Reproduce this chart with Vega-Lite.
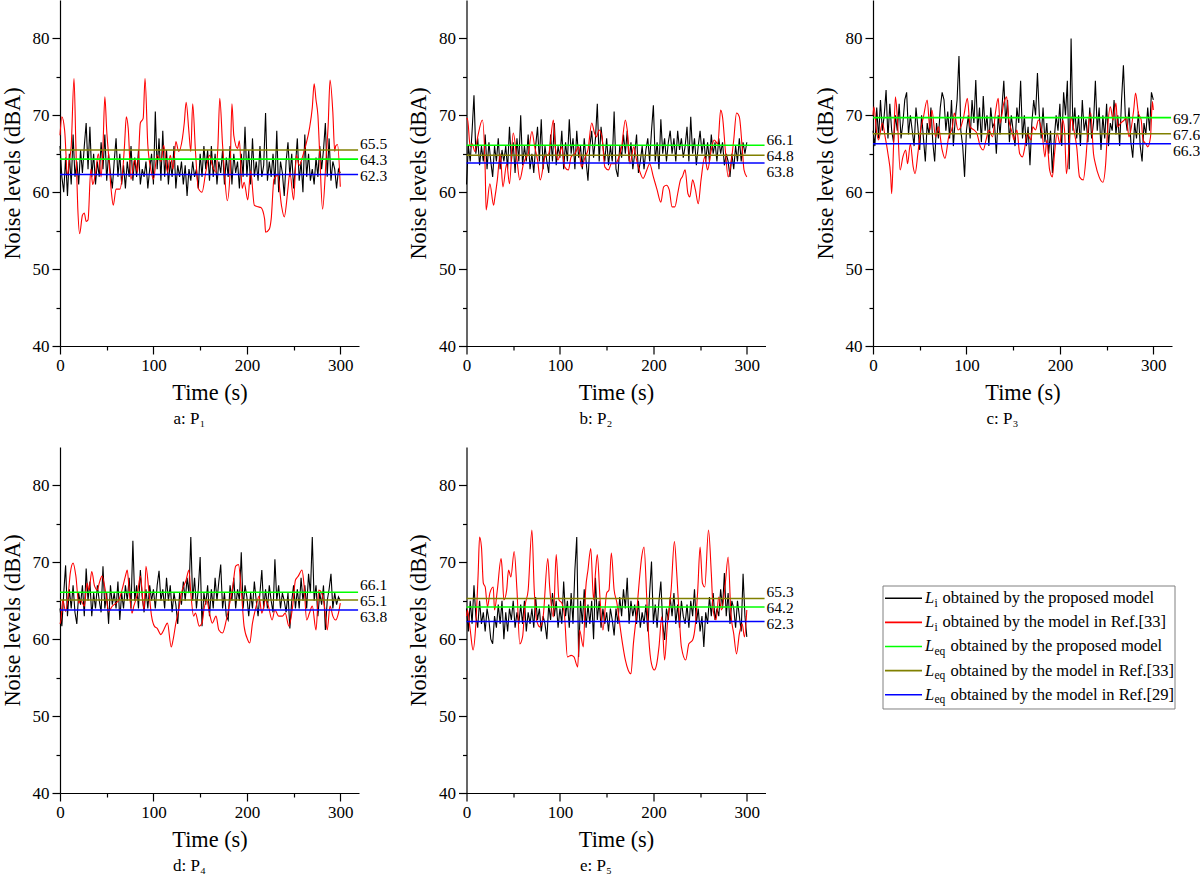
{
"$schema": "https://vega.github.io/schema/vega-lite/v6.json",
"background": "white",
"padding": {"left": 1, "top": 0, "right": 0, "bottom": 0},
"columns": 3,
"spacing": {"row": 101, "column": 107.5},
"bounds": "flush",
"datasets": {
"li": [
{"p":"a","s":"k","t":[0,2,4,6,8,10,12,14,16,18,20,22,24,26,28,30,32,34,36,38,40,42,44,46,48,50,52,54,56,58,60,62,64,66,68,70,72,74,76,78,80,82,84,86,88,90,92,94,96,98,100,102,104,106,108,110,112,114,116,118,120,122,124,126,128,130,132,134,136,138,140,142,144,146,148,150,152,154,156,158,160,162,164,166,168,170,172,174,176,178,180,182,184,186,188,190,192,194,196,198,200,202,204,206,208,210,212,214,216,218,220,222,224,226,228,230,232,234,236,238,240,242,244,246,248,250,252,254,256,258,260,262,264,266,268,270,272,274,276,278,280,282,284,286,288,290,292,294,296,298,300],
"v":[66,62,60,64.5,59.5,65,61,67.5,62,64,61,65.5,62.5,66,69,63,68.5,62,65,61,64,62,66.5,63,67.5,61.5,65,62.5,60.5,64,67,62,65,61,63.5,60.5,64,62,66,61.5,64.5,62,65.5,61,63,62,64,60.5,63,65,61,70.5,63,67,61.5,68,62,65.5,61,64,62,66,60.5,63.5,62,64,61,63.5,59.5,63,61.5,64,62,63,60.5,65,62,66,63,65.5,61.5,66,62,65,61,64,62.5,65.5,61,64.5,62,66,61,65,62.5,64,60.5,65,62,68.5,62,65.5,61,67,62,64,61.5,66,62,63.5,70.3,61.5,64,62,65,61,68,60,64,62.5,59.5,64,66.5,62,65,60.5,63.5,67,61.5,64,60,67.5,62,65,61.5,63,61,64.5,62,66,63,65.5,69,62,67,61.5,64,63,60.5,63,62.5]},
{"p":"a","s":"r","t":[0,2,5,8,10,12,15,17,19,21,24,26,28,30,33,35,38,41,44,46,48,50,52,55,57,60,64,67,69,71,73,76,80,83,86,89,91,94,97,100,104,108,111,115,118,121,124,127,131,133,135,138,140,142,145,148,152,156,160,163,167,169,171,174,176,179,182,184,186,190,192,195,197,201,204,208,212,215,219,220,224,226,229,233,237,240,244,246,250,253,256,260,263,267,270,272,274,276,278,281,285,287,289,292,294,295,297,300],
"v":[67.4,69.8,68,62.2,64,66,74.8,66,58,54.6,57,57.3,56.2,56.4,63,61,62.5,65,62,66,72.4,68,64.8,60,58.3,60.4,60.4,62.6,66,69.8,68.3,61.7,64.3,62.6,69,69.6,74.8,66.1,63.1,61.7,64.8,64,66.1,62.6,64.8,63,66.6,65.3,67,69,71.7,67.8,65.3,71.5,65.3,60.5,60,62.6,64.8,63.5,62.6,66,72.2,66.1,62.6,58.9,62.6,71.5,67.4,65.7,66.7,60.5,61.3,59,62.8,58.3,58.1,58,56.5,54.8,55.2,56.5,61.7,62.2,58.3,56.8,60.5,62.6,59,64.8,63.5,64.8,66.1,68.3,71,74.1,72,70,64.8,57.8,64.8,68.7,74.6,70.4,65.3,66,66.2,60.7]},
{"p":"b","s":"k","t":[0,2,4,6,8,10,12,14,16,18,20,22,24,26,28,30,32,34,36,38,40,42,44,46,48,50,52,54,56,58,60,62,64,66,68,70,72,74,76,78,80,82,84,86,88,90,92,94,96,98,100,102,104,106,108,110,112,114,116,118,120,122,124,126,128,130,132,134,136,138,140,142,144,146,148,150,152,154,156,158,160,162,164,166,168,170,172,174,176,178,180,182,184,186,188,190,192,194,196,198,200,202,204,206,208,210,212,214,216,218,220,222,224,226,228,230,232,234,236,238,240,242,244,246,248,250,252,254,256,258,260,262,264,266,268,270,272,274,276,278,280,282,284,286,288,290,292,294,296,298,300],
"v":[61,66,64,68,72.6,65,67,63.5,66,64,67.5,63,66.5,64,62,66,64,67,63,65.5,64,66,63,68.5,64,66.5,62.5,67,64,70,63.5,66,64,67.5,63,65,62.5,66,68.5,64,69.5,63,66,64,62.5,67.5,64,69,63.5,66,64.5,68,63,66.5,64,69.5,65,67,63,68,64.5,66,63,67,64,61.5,66,68,64.5,67,71.5,64,68.5,66,64,67,63.5,66,64,70.5,63,62,66,64.5,67.5,65,68,64,66.5,63,65,67.5,62.5,64,66,63,65.5,67,64,68,71.3,64,66.5,63,69.5,65,67,64,66.5,68,65,67,64,68,65.5,67,64.5,66,68.5,64,69.8,65,67,63.5,66,68,65,67,64,66.5,64,67.5,65,66.5,64,67,65,66.5,63.5,65,64,62,65,63,66,64,67,64,66.5,65,66.5]},
{"p":"b","s":"r","t":[0,1,4,6,9,12,17,20,21,25,29,30,33,36,39,43,46,50,54,57,61,64,66,70,73,76,79,84,88,93,95,98,102,105,109,112,116,120,123,127,130,134,137,139,142,145,148,152,155,159,162,166,170,172,175,179,182,186,189,193,196,200,204,208,211,214,217,220,223,226,229,231,234,237,239,242,245,248,251,255,258,262,265,269,272,274,277,280,283,286,289,292,295,297,300],
"v":[69.5,69.6,65.9,66.3,65.3,67.2,69.4,62.9,57.7,61.1,58.3,59,61.6,65,60.7,63.7,61.1,67.7,64.2,61.6,63.7,64.6,65,67.9,65.9,64.2,61.6,64.6,65,69.4,65.9,64.2,65.9,63.3,62.9,64.6,65,65.9,63.3,64.6,65.5,69,67.7,67.2,68.1,67.2,63.3,62.9,63.7,63.7,64.2,65.9,69.4,68.1,63.7,65.9,64.2,62.5,61.8,62.9,63.7,62,60.3,58.7,60.7,60.9,60.3,58.1,58.1,59.8,61.6,62,62.9,59.8,59.4,61.6,60.3,58.5,61.6,64.6,62.9,65.5,66.8,66.3,70.7,69.8,65.5,62,63.7,66.8,70.3,69.8,65.9,62.9,62]},
{"p":"c","s":"k","t":[0,2,4,6,8,10,12,14,16,18,20,22,24,26,28,30,32,34,36,38,40,42,44,46,48,50,52,54,56,58,60,62,64,66,68,70,72,74,76,78,80,82,84,86,88,90,92,94,96,98,100,102,104,106,108,110,112,114,116,118,120,122,124,126,128,130,132,134,136,138,140,142,144,146,148,150,152,154,156,158,160,162,164,166,168,170,172,174,176,178,180,182,184,186,188,190,192,194,196,198,200,202,204,206,208,210,212,214,216,218,220,222,224,226,228,230,232,234,236,238,240,242,244,246,248,250,252,254,256,258,260,262,264,266,268,270,272,274,276,278,280,282,284,286,288,290,292,294,296,298,300],
"v":[68,66,71,67,72,68,70,73.3,67,71.5,68,66.5,70,68,71.5,67,69,72,73,67.5,70,68,66,71,68.5,65.5,70,67,64,69,67.5,71,66.5,64,69,67,71,73,72,68,70.5,67,72,66,69.5,72,77.7,68,66,62,68,70,67,72,69,74.6,68,71,66.5,72.5,68,70,66,71,68.5,69,65,70,67.5,71,74.5,69,72,66.5,70,68,66,71,69,74.5,67,70,66,68.5,63.5,69,72,70,75.5,70,67,71,66.5,69,65,68,62.5,67,70,68,71.5,66,73,70,74.5,63,80,68,71,67,70,66,72,68,69.5,66.5,71,67,69,74.5,68,71,65.5,70,67,71.5,66,69,68,72,67.5,70,66,72,76.5,70,68,71,66.5,64.5,69,67,70.5,66,64,69,67.5,71,68,73,72]},
{"p":"c","s":"r","t":[0,1,4,6,10,13,16,19,20,22,24,26,29,32,35,37,40,43,45,48,51,54,58,61,63,67,70,74,77,81,85,87,91,94,97,101,104,108,111,115,118,121,124,128,131,134,136,140,143,145,149,151,154,157,160,162,165,169,171,174,177,181,184,186,189,192,194,197,200,203,205,207,210,212,215,218,221,225,228,230,233,236,238,242,246,249,251,254,257,260,262,265,269,271,274,276,279,281,284,287,289,292,294,297,299,300],
"v":[70,71.1,67.7,66.8,69,67.2,65,62,59.8,66,72.4,69.8,62.9,64.6,65.5,63.7,66.3,63.3,62.4,65,68.1,69.8,72,68.1,70.7,67.2,68.5,65.5,64.4,67.2,68.5,70.3,68.1,68.5,69.8,72.2,68.5,68.1,67.7,65.9,65.5,66.8,68.1,67.2,70.3,72.2,69,71.6,72.4,69.8,67.7,66.8,68.1,65,64.6,65.5,67.7,66.8,68.5,68.1,69.4,67.7,64.6,66.8,62.9,62,64.6,67.7,66.3,69.4,68.1,62.4,66.3,69.8,68.1,65.9,62,61.6,64.6,68.1,70.3,65,63.7,62,61.3,63.7,68.1,71.1,69.4,71.6,68.5,69,69.4,69.8,67.2,68.1,70.7,72.9,70.3,69.4,66.8,66.3,65.9,67.2,71.8,70.7]},
{"p":"d","s":"k","t":[0,2,4,6,8,10,12,14,16,18,20,22,24,26,28,30,32,34,36,38,40,42,44,46,48,50,52,54,56,58,60,62,64,66,68,70,72,74,76,78,80,82,84,86,88,90,92,94,96,98,100,102,104,106,108,110,112,114,116,118,120,122,124,126,128,130,132,134,136,138,140,142,144,146,148,150,152,154,156,158,160,162,164,166,168,170,172,174,176,178,180,182,184,186,188,190,192,194,196,198,200,202,204,206,208,210,212,214,216,218,220,222,224,226,228,230,232,234,236,238,240,242,244,246,248,250,252,254,256,258,260,262,264,266,268,270,272,274,276,278,280,282,284,286,288,290,292,294,296,298,300],
"v":[64,61.7,66,69.6,63,66.5,64,67,63.5,62,66,64.5,67,63,69.2,65,67.5,63,66,64,67,65,63.5,69.5,64,66,62,67,64.5,66,64,67.5,62.5,66,64,67,65,68,64,72.8,65,67,64,69,65.5,63.5,66.5,64,67,65,66.5,64,67,68.9,65,66.5,64,68,65,67,63.5,66,64.5,62,66,64.5,67.5,65,68,66,73.3,65,68,64,66.5,70.7,61.7,66,64.5,67,63,66.5,64,68,65,67.5,69.7,64,66,63,62.5,67,65,68,64,66.5,65,71.3,64,67,65.5,63,66,64,67.5,65,63,66,69,64,66.5,64,67,65,63.5,70.4,65,67,64,66,65,63.5,66,61.4,65,67,64,66.5,64,68,65,67,64,68.5,66,73.3,65,67,63,66,64.5,67,61.2,65,66.5,68.5,64,66,64.5,65.5,65]},
{"p":"d","s":"r","t":[0,1,3,6,9,11,14,17,20,22,26,29,31,34,37,40,42,45,49,52,56,60,63,67,70,72,74,77,79,83,86,90,92,95,98,101,104,108,111,115,119,121,124,127,130,135,138,140,143,145,149,152,154,157,160,163,167,170,174,178,181,185,188,191,194,197,201,203,206,210,213,216,220,223,227,230,234,238,241,245,249,252,255,259,261,264,267,270,274,277,280,283,286,289,292,295,298,300],
"v":[62,62.5,65.1,63.6,66,68.6,69.9,68.2,64.7,65.1,64.3,67.3,66.4,68.8,66.9,66.4,67.3,68.2,66,63.6,64.3,64.7,65.1,66.7,68.2,69,66.4,63.4,64.3,66,68.2,63.8,69.5,66.4,63,61.7,61.4,60.6,61.2,62.1,59,59.9,62.1,63.8,66,67.7,69,66,63,63.4,61.7,62.1,63.8,65.1,63.4,62.1,63,61.2,60.8,62.5,64.3,66.9,69.5,69.7,66.4,61.7,59.9,59.5,62.1,64.3,65.6,63.4,65.1,64.3,62.5,63.8,63,63,63.4,61.7,64.3,67.7,68.2,69,67.3,62.5,63.4,64.3,61.2,66.4,66,64.3,61.2,64.3,63,62.5,63.4,64.7]},
{"p":"e","s":"k","t":[0,2,4,6,8,10,12,14,16,18,20,22,24,26,28,30,32,34,36,38,40,42,44,46,48,50,52,54,56,58,60,62,64,66,68,70,72,74,76,78,80,82,84,86,88,90,92,94,96,98,100,102,104,106,108,110,112,114,116,118,120,122,124,126,128,130,132,134,136,138,140,142,144,146,148,150,152,154,156,158,160,162,164,166,168,170,172,174,176,178,180,182,184,186,188,190,192,194,196,198,200,202,204,206,208,210,212,214,216,218,220,222,224,226,228,230,232,234,236,238,240,242,244,246,248,250,252,254,256,258,260,262,264,266,268,270,272,274,276,278,280,282,284,286,288,290,292,294,296,298,300],
"v":[64,61,65,62,67,63,61.5,65,62,63.5,61,64,62.5,60,59.4,63,61.5,64.5,62,65,60,63.5,61,64,62.5,65,61.5,63.5,62,64.5,62,65,61,63.5,62,64,61.5,65.5,62.5,64,61,63,62,60,64.5,62.5,66,63,65,61.5,64,62,67.5,63,65,61.5,66,62,69,73.3,57.7,65,62,66.5,61.5,64.5,62,65,60,68,62.5,65,61.5,64,62,63.5,61,64,62.5,60.5,64,62,65.5,63,66.5,64,68,62,65,63,64.5,62,65,61.5,63.5,62,64.5,61,66,70.1,62,64.5,61.5,65,67.5,62,59.9,64,62.5,65.5,63,66,62,64.5,61.5,65,63,62,64.5,61.5,65,63,66.5,62,64,61,63,59,63.5,62,65.5,63,66,62.5,64,63,66.5,64,68.6,63,66,62,65,64,61.5,65,63,61,68.5,63,60.3]},
{"p":"e","s":"r","t":[0,1,4,7,10,12.5,14,16,18,20,22.5,25,28.6,30,33,37,38,40,43,45,47.5,51,54,57,60,62.5,66,70,72.5,75,78.6,82,87,89,93,96,99,102,105,108,112,115,119,121,125,127.5,130,133,136,138,140,143,146,150,152.5,155,158,161,163,167,170,173,176,178.6,182,185,187.5,190,193,195,198,201,203.6,206,209,212,215,219,222.5,225,227.5,230,234.6,238,242,245,247.5,250,252.5,255,259,262,264,267,270,273,277,280,283,286,289,292,295,297.5,300],
"v":[63,63.8,61.2,58.6,62,68.6,73.3,72,67.3,66.8,64.2,66,66.8,63.8,66.4,70.5,69.4,65.1,66.4,69,68.1,71.4,66.4,59.4,60.3,64.2,66.4,74.2,66.4,62.5,61.6,62.9,70.5,66.8,62.9,71,65.1,64.7,62.9,57.7,57.9,57.7,56.4,61.2,59,66.4,69,71.8,65.1,68.6,71,65.1,61.2,66,66.4,71.2,66.4,64.7,62.9,59.4,57.3,56,55.5,59.4,63.3,67.7,70.7,72,65.1,60.3,56.8,56,56.8,59,62.9,57.3,62,66.4,72.7,68.6,63.3,59,57.3,59.4,59.9,62,66.4,72,67.3,66.8,74.2,68.6,63.8,62.5,65.5,63.8,67.3,70.7,63.3,60.7,58.1,60.7,62,60.3,63.8]}
],
"leq": [
{"p":"a","k":"Leq_prop","v":64.3},{"p":"a","k":"Leq_33","v":65.5},{"p":"a","k":"Leq_29","v":62.3},
{"p":"b","k":"Leq_prop","v":66.1},{"p":"b","k":"Leq_33","v":64.8},{"p":"b","k":"Leq_29","v":63.8},
{"p":"c","k":"Leq_prop","v":69.7},{"p":"c","k":"Leq_33","v":67.6},{"p":"c","k":"Leq_29","v":66.3},
{"p":"d","k":"Leq_prop","v":66.1},{"p":"d","k":"Leq_33","v":65.1},{"p":"d","k":"Leq_29","v":63.8},
{"p":"e","k":"Leq_prop","v":64.2},{"p":"e","k":"Leq_33","v":65.3},{"p":"e","k":"Leq_29","v":62.3}
],
"leg": [
{"r":0,"k":"Li_prop","sub":"i","txt":"obtained by the proposed model"},
{"r":1,"k":"Li_33","sub":"i","txt":"obtained by the model in Ref.[33]"},
{"r":2,"k":"Leq_prop","sub":"eq","txt":"obtained by the proposed model"},
{"r":3,"k":"Leq_33","sub":"eq","txt":"obtained by the model in Ref.[33]"},
{"r":4,"k":"Leq_29","sub":"eq","txt":"obtained by the model in Ref.[29]"}
]
},
"concat": [
{"width":299,"height":346,"title":{"text":"a: P₁","orient":"bottom","dx":-20},
"data":{"name":"leq"},
"encoding":{"y":{"field":"v","type":"quantitative","scale":{"domain":[40,85],"nice":false,"zero":false},"title":"Noise levels (dBA)","axis":{"values":[40,45,50,55,60,65,70,75,80],"labelExpr":"datum.value % 10 === 0 ? datum.label : ''","tickSize":{"condition":{"test":"datum.value % 10 === 0","value":8},"value":4}}}},
"layer":[
{"data":{"name":"li"},"transform":[{"filter":"datum.p === 'a' && datum.s === 'k'"},{"flatten":["t","v"]}],"mark":{"type":"line","color":"#000000","strokeWidth":1.1},"encoding":{"x":{"field":"t","type":"quantitative","scale":{"domain":[0,320],"nice":false,"zero":false},"title":"Time (s)","axis":{"values":[0,50,100,150,200,250,300],"labelExpr":"datum.value % 100 === 0 ? datum.label : ''","tickSize":{"condition":{"test":"datum.value % 100 === 0","value":8},"value":4}}}}},
{"data":{"name":"li"},"transform":[{"filter":"datum.p === 'a' && datum.s === 'r'"},{"flatten":["t","v"]}],"mark":{"type":"line","color":"#ff0000","strokeWidth":1.1,"interpolate":"monotone"},"encoding":{"x":{"field":"t","type":"quantitative"}}},
{"transform":[{"filter":"datum.p === 'a'"}],"mark":{"type":"rule","strokeWidth":1.6},"encoding":{"x":{"datum":0,"type":"quantitative"},"x2":{"datum":319},"color":{"field":"k","type":"nominal","scale":{"domain":["Li_prop","Li_33","Leq_prop","Leq_33","Leq_29"],"range":["#000000","#ff0000","#00ff00","#808000","#0000ff"]},"legend":null}}},
{"transform":[{"filter":"datum.p === 'a'"},{"joinaggregate":[{"op":"median","field":"v","as":"mid"}]},{"window":[{"op":"rank","as":"rk"}],"sort":[{"field":"v","order":"descending"}]},{"filter":"datum.rk === 1"}],"mark":{"type":"text","align":"left","baseline":"middle","dx":1,"dy":-15,"fontSize":15.5,"color":"#000"},"encoding":{"x":{"datum":320,"type":"quantitative"},"y":{"field":"mid","type":"quantitative","title":"Noise levels (dBA)"},"text":{"field":"v","type":"quantitative","format":".1f"}}},
{"transform":[{"filter":"datum.p === 'a'"},{"joinaggregate":[{"op":"median","field":"v","as":"mid"}]},{"window":[{"op":"rank","as":"rk"}],"sort":[{"field":"v","order":"descending"}]},{"filter":"datum.rk === 2"}],"mark":{"type":"text","align":"left","baseline":"middle","dx":1,"dy":1,"fontSize":15.5,"color":"#000"},"encoding":{"x":{"datum":320,"type":"quantitative"},"y":{"field":"mid","type":"quantitative","title":"Noise levels (dBA)"},"text":{"field":"v","type":"quantitative","format":".1f"}}},
{"transform":[{"filter":"datum.p === 'a'"},{"joinaggregate":[{"op":"median","field":"v","as":"mid"}]},{"window":[{"op":"rank","as":"rk"}],"sort":[{"field":"v","order":"descending"}]},{"filter":"datum.rk === 3"}],"mark":{"type":"text","align":"left","baseline":"middle","dx":1,"dy":17,"fontSize":15.5,"color":"#000"},"encoding":{"x":{"datum":320,"type":"quantitative"},"y":{"field":"mid","type":"quantitative","title":"Noise levels (dBA)"},"text":{"field":"v","type":"quantitative","format":".1f"}}}
]},
{"width":299,"height":346,"title":{"text":"b: P₂","orient":"bottom","dx":-20},
"data":{"name":"leq"},
"encoding":{"y":{"field":"v","type":"quantitative","scale":{"domain":[40,85],"nice":false,"zero":false},"title":"Noise levels (dBA)","axis":{"values":[40,45,50,55,60,65,70,75,80],"labelExpr":"datum.value % 10 === 0 ? datum.label : ''","tickSize":{"condition":{"test":"datum.value % 10 === 0","value":8},"value":4}}}},
"layer":[
{"data":{"name":"li"},"transform":[{"filter":"datum.p === 'b' && datum.s === 'k'"},{"flatten":["t","v"]}],"mark":{"type":"line","color":"#000000","strokeWidth":1.1},"encoding":{"x":{"field":"t","type":"quantitative","scale":{"domain":[0,320],"nice":false,"zero":false},"title":"Time (s)","axis":{"values":[0,50,100,150,200,250,300],"labelExpr":"datum.value % 100 === 0 ? datum.label : ''","tickSize":{"condition":{"test":"datum.value % 100 === 0","value":8},"value":4}}}}},
{"data":{"name":"li"},"transform":[{"filter":"datum.p === 'b' && datum.s === 'r'"},{"flatten":["t","v"]}],"mark":{"type":"line","color":"#ff0000","strokeWidth":1.1,"interpolate":"monotone"},"encoding":{"x":{"field":"t","type":"quantitative"}}},
{"transform":[{"filter":"datum.p === 'b'"}],"mark":{"type":"rule","strokeWidth":1.6},"encoding":{"x":{"datum":0,"type":"quantitative"},"x2":{"datum":319},"color":{"field":"k","type":"nominal","scale":{"domain":["Li_prop","Li_33","Leq_prop","Leq_33","Leq_29"],"range":["#000000","#ff0000","#00ff00","#808000","#0000ff"]},"legend":null}}},
{"transform":[{"filter":"datum.p === 'b'"},{"joinaggregate":[{"op":"median","field":"v","as":"mid"}]},{"window":[{"op":"rank","as":"rk"}],"sort":[{"field":"v","order":"descending"}]},{"filter":"datum.rk === 1"}],"mark":{"type":"text","align":"left","baseline":"middle","dx":1,"dy":-15,"fontSize":15.5,"color":"#000"},"encoding":{"x":{"datum":320,"type":"quantitative"},"y":{"field":"mid","type":"quantitative","title":"Noise levels (dBA)"},"text":{"field":"v","type":"quantitative","format":".1f"}}},
{"transform":[{"filter":"datum.p === 'b'"},{"joinaggregate":[{"op":"median","field":"v","as":"mid"}]},{"window":[{"op":"rank","as":"rk"}],"sort":[{"field":"v","order":"descending"}]},{"filter":"datum.rk === 2"}],"mark":{"type":"text","align":"left","baseline":"middle","dx":1,"dy":1,"fontSize":15.5,"color":"#000"},"encoding":{"x":{"datum":320,"type":"quantitative"},"y":{"field":"mid","type":"quantitative","title":"Noise levels (dBA)"},"text":{"field":"v","type":"quantitative","format":".1f"}}},
{"transform":[{"filter":"datum.p === 'b'"},{"joinaggregate":[{"op":"median","field":"v","as":"mid"}]},{"window":[{"op":"rank","as":"rk"}],"sort":[{"field":"v","order":"descending"}]},{"filter":"datum.rk === 3"}],"mark":{"type":"text","align":"left","baseline":"middle","dx":1,"dy":17,"fontSize":15.5,"color":"#000"},"encoding":{"x":{"datum":320,"type":"quantitative"},"y":{"field":"mid","type":"quantitative","title":"Noise levels (dBA)"},"text":{"field":"v","type":"quantitative","format":".1f"}}}
]},
{"width":299,"height":346,"title":{"text":"c: P₃","orient":"bottom","dx":-20},
"data":{"name":"leq"},
"encoding":{"y":{"field":"v","type":"quantitative","scale":{"domain":[40,85],"nice":false,"zero":false},"title":"Noise levels (dBA)","axis":{"values":[40,45,50,55,60,65,70,75,80],"labelExpr":"datum.value % 10 === 0 ? datum.label : ''","tickSize":{"condition":{"test":"datum.value % 10 === 0","value":8},"value":4}}}},
"layer":[
{"data":{"name":"li"},"transform":[{"filter":"datum.p === 'c' && datum.s === 'k'"},{"flatten":["t","v"]}],"mark":{"type":"line","color":"#000000","strokeWidth":1.1},"encoding":{"x":{"field":"t","type":"quantitative","scale":{"domain":[0,320],"nice":false,"zero":false},"title":"Time (s)","axis":{"values":[0,50,100,150,200,250,300],"labelExpr":"datum.value % 100 === 0 ? datum.label : ''","tickSize":{"condition":{"test":"datum.value % 100 === 0","value":8},"value":4}}}}},
{"data":{"name":"li"},"transform":[{"filter":"datum.p === 'c' && datum.s === 'r'"},{"flatten":["t","v"]}],"mark":{"type":"line","color":"#ff0000","strokeWidth":1.1,"interpolate":"monotone"},"encoding":{"x":{"field":"t","type":"quantitative"}}},
{"transform":[{"filter":"datum.p === 'c'"}],"mark":{"type":"rule","strokeWidth":1.6},"encoding":{"x":{"datum":0,"type":"quantitative"},"x2":{"datum":319},"color":{"field":"k","type":"nominal","scale":{"domain":["Li_prop","Li_33","Leq_prop","Leq_33","Leq_29"],"range":["#000000","#ff0000","#00ff00","#808000","#0000ff"]},"legend":null}}},
{"transform":[{"filter":"datum.p === 'c'"},{"joinaggregate":[{"op":"median","field":"v","as":"mid"}]},{"window":[{"op":"rank","as":"rk"}],"sort":[{"field":"v","order":"descending"}]},{"filter":"datum.rk === 1"}],"mark":{"type":"text","align":"left","baseline":"middle","dx":1,"dy":-15,"fontSize":15.5,"color":"#000"},"encoding":{"x":{"datum":320,"type":"quantitative"},"y":{"field":"mid","type":"quantitative","title":"Noise levels (dBA)"},"text":{"field":"v","type":"quantitative","format":".1f"}}},
{"transform":[{"filter":"datum.p === 'c'"},{"joinaggregate":[{"op":"median","field":"v","as":"mid"}]},{"window":[{"op":"rank","as":"rk"}],"sort":[{"field":"v","order":"descending"}]},{"filter":"datum.rk === 2"}],"mark":{"type":"text","align":"left","baseline":"middle","dx":1,"dy":1,"fontSize":15.5,"color":"#000"},"encoding":{"x":{"datum":320,"type":"quantitative"},"y":{"field":"mid","type":"quantitative","title":"Noise levels (dBA)"},"text":{"field":"v","type":"quantitative","format":".1f"}}},
{"transform":[{"filter":"datum.p === 'c'"},{"joinaggregate":[{"op":"median","field":"v","as":"mid"}]},{"window":[{"op":"rank","as":"rk"}],"sort":[{"field":"v","order":"descending"}]},{"filter":"datum.rk === 3"}],"mark":{"type":"text","align":"left","baseline":"middle","dx":1,"dy":17,"fontSize":15.5,"color":"#000"},"encoding":{"x":{"datum":320,"type":"quantitative"},"y":{"field":"mid","type":"quantitative","title":"Noise levels (dBA)"},"text":{"field":"v","type":"quantitative","format":".1f"}}}
]},
{"width":299,"height":346,"title":{"text":"d: P₄","orient":"bottom","dx":-20},
"data":{"name":"leq"},
"encoding":{"y":{"field":"v","type":"quantitative","scale":{"domain":[40,85],"nice":false,"zero":false},"title":"Noise levels (dBA)","axis":{"values":[40,45,50,55,60,65,70,75,80],"labelExpr":"datum.value % 10 === 0 ? datum.label : ''","tickSize":{"condition":{"test":"datum.value % 10 === 0","value":8},"value":4}}}},
"layer":[
{"data":{"name":"li"},"transform":[{"filter":"datum.p === 'd' && datum.s === 'k'"},{"flatten":["t","v"]}],"mark":{"type":"line","color":"#000000","strokeWidth":1.1},"encoding":{"x":{"field":"t","type":"quantitative","scale":{"domain":[0,320],"nice":false,"zero":false},"title":"Time (s)","axis":{"values":[0,50,100,150,200,250,300],"labelExpr":"datum.value % 100 === 0 ? datum.label : ''","tickSize":{"condition":{"test":"datum.value % 100 === 0","value":8},"value":4}}}}},
{"data":{"name":"li"},"transform":[{"filter":"datum.p === 'd' && datum.s === 'r'"},{"flatten":["t","v"]}],"mark":{"type":"line","color":"#ff0000","strokeWidth":1.1,"interpolate":"monotone"},"encoding":{"x":{"field":"t","type":"quantitative"}}},
{"transform":[{"filter":"datum.p === 'd'"}],"mark":{"type":"rule","strokeWidth":1.6},"encoding":{"x":{"datum":0,"type":"quantitative"},"x2":{"datum":319},"color":{"field":"k","type":"nominal","scale":{"domain":["Li_prop","Li_33","Leq_prop","Leq_33","Leq_29"],"range":["#000000","#ff0000","#00ff00","#808000","#0000ff"]},"legend":null}}},
{"transform":[{"filter":"datum.p === 'd'"},{"joinaggregate":[{"op":"median","field":"v","as":"mid"}]},{"window":[{"op":"rank","as":"rk"}],"sort":[{"field":"v","order":"descending"}]},{"filter":"datum.rk === 1"}],"mark":{"type":"text","align":"left","baseline":"middle","dx":1,"dy":-15,"fontSize":15.5,"color":"#000"},"encoding":{"x":{"datum":320,"type":"quantitative"},"y":{"field":"mid","type":"quantitative","title":"Noise levels (dBA)"},"text":{"field":"v","type":"quantitative","format":".1f"}}},
{"transform":[{"filter":"datum.p === 'd'"},{"joinaggregate":[{"op":"median","field":"v","as":"mid"}]},{"window":[{"op":"rank","as":"rk"}],"sort":[{"field":"v","order":"descending"}]},{"filter":"datum.rk === 2"}],"mark":{"type":"text","align":"left","baseline":"middle","dx":1,"dy":1,"fontSize":15.5,"color":"#000"},"encoding":{"x":{"datum":320,"type":"quantitative"},"y":{"field":"mid","type":"quantitative","title":"Noise levels (dBA)"},"text":{"field":"v","type":"quantitative","format":".1f"}}},
{"transform":[{"filter":"datum.p === 'd'"},{"joinaggregate":[{"op":"median","field":"v","as":"mid"}]},{"window":[{"op":"rank","as":"rk"}],"sort":[{"field":"v","order":"descending"}]},{"filter":"datum.rk === 3"}],"mark":{"type":"text","align":"left","baseline":"middle","dx":1,"dy":17,"fontSize":15.5,"color":"#000"},"encoding":{"x":{"datum":320,"type":"quantitative"},"y":{"field":"mid","type":"quantitative","title":"Noise levels (dBA)"},"text":{"field":"v","type":"quantitative","format":".1f"}}}
]},
{"width":299,"height":346,"title":{"text":"e: P₅","orient":"bottom","dx":-20},
"data":{"name":"leq"},
"encoding":{"y":{"field":"v","type":"quantitative","scale":{"domain":[40,85],"nice":false,"zero":false},"title":"Noise levels (dBA)","axis":{"values":[40,45,50,55,60,65,70,75,80],"labelExpr":"datum.value % 10 === 0 ? datum.label : ''","tickSize":{"condition":{"test":"datum.value % 10 === 0","value":8},"value":4}}}},
"layer":[
{"data":{"name":"li"},"transform":[{"filter":"datum.p === 'e' && datum.s === 'k'"},{"flatten":["t","v"]}],"mark":{"type":"line","color":"#000000","strokeWidth":1.1},"encoding":{"x":{"field":"t","type":"quantitative","scale":{"domain":[0,320],"nice":false,"zero":false},"title":"Time (s)","axis":{"values":[0,50,100,150,200,250,300],"labelExpr":"datum.value % 100 === 0 ? datum.label : ''","tickSize":{"condition":{"test":"datum.value % 100 === 0","value":8},"value":4}}}}},
{"data":{"name":"li"},"transform":[{"filter":"datum.p === 'e' && datum.s === 'r'"},{"flatten":["t","v"]}],"mark":{"type":"line","color":"#ff0000","strokeWidth":1.1,"interpolate":"monotone"},"encoding":{"x":{"field":"t","type":"quantitative"}}},
{"transform":[{"filter":"datum.p === 'e'"}],"mark":{"type":"rule","strokeWidth":1.6},"encoding":{"x":{"datum":0,"type":"quantitative"},"x2":{"datum":319},"color":{"field":"k","type":"nominal","scale":{"domain":["Li_prop","Li_33","Leq_prop","Leq_33","Leq_29"],"range":["#000000","#ff0000","#00ff00","#808000","#0000ff"]},"legend":null}}},
{"transform":[{"filter":"datum.p === 'e'"},{"joinaggregate":[{"op":"median","field":"v","as":"mid"}]},{"window":[{"op":"rank","as":"rk"}],"sort":[{"field":"v","order":"descending"}]},{"filter":"datum.rk === 1"}],"mark":{"type":"text","align":"left","baseline":"middle","dx":1,"dy":-15,"fontSize":15.5,"color":"#000"},"encoding":{"x":{"datum":320,"type":"quantitative"},"y":{"field":"mid","type":"quantitative","title":"Noise levels (dBA)"},"text":{"field":"v","type":"quantitative","format":".1f"}}},
{"transform":[{"filter":"datum.p === 'e'"},{"joinaggregate":[{"op":"median","field":"v","as":"mid"}]},{"window":[{"op":"rank","as":"rk"}],"sort":[{"field":"v","order":"descending"}]},{"filter":"datum.rk === 2"}],"mark":{"type":"text","align":"left","baseline":"middle","dx":1,"dy":1,"fontSize":15.5,"color":"#000"},"encoding":{"x":{"datum":320,"type":"quantitative"},"y":{"field":"mid","type":"quantitative","title":"Noise levels (dBA)"},"text":{"field":"v","type":"quantitative","format":".1f"}}},
{"transform":[{"filter":"datum.p === 'e'"},{"joinaggregate":[{"op":"median","field":"v","as":"mid"}]},{"window":[{"op":"rank","as":"rk"}],"sort":[{"field":"v","order":"descending"}]},{"filter":"datum.rk === 3"}],"mark":{"type":"text","align":"left","baseline":"middle","dx":1,"dy":17,"fontSize":15.5,"color":"#000"},"encoding":{"x":{"datum":320,"type":"quantitative"},"y":{"field":"mid","type":"quantitative","title":"Noise levels (dBA)"},"text":{"field":"v","type":"quantitative","format":".1f"}}}
]},
{"width":299,"height":346,
"data":{"name":"leg"},
"encoding":{"y":{"field":"r","type":"quantitative","scale":{"domain":[-6.278,8.079],"reverse":true,"nice":false,"zero":false},"axis":null}},
"layer":[
{"transform":[{"filter":"datum.r === 0"}],"mark":{"type":"rect","filled":false,"color":"#808080","strokeWidth":1},"encoding":{"x":{"datum":10,"type":"quantitative","scale":{"domain":[0,299],"nice":false,"zero":false},"axis":null},"x2":{"datum":302},"y":{"datum":-0.51,"type":"quantitative"},"y2":{"datum":4.593}}},
{"mark":{"type":"rule","strokeWidth":1.6},"encoding":{"x":{"datum":12,"type":"quantitative","scale":{"domain":[0,299],"nice":false,"zero":false},"axis":null},"x2":{"datum":49},"color":{"field":"k","type":"nominal","scale":{"domain":["Li_prop","Li_33","Leq_prop","Leq_33","Leq_29"],"range":["#000000","#ff0000","#00ff00","#808000","#0000ff"]},"legend":null}}},
{"mark":{"type":"text","text":"L","fontStyle":"italic","fontSize":16.5,"align":"left","baseline":"middle","color":"#000"},"encoding":{"x":{"datum":52,"type":"quantitative","scale":{"domain":[0,299],"nice":false,"zero":false},"axis":null}}},
{"mark":{"type":"text","fontSize":11.5,"align":"left","baseline":"middle","dy":5.5,"color":"#000"},"encoding":{"x":{"datum":61.5,"type":"quantitative","scale":{"domain":[0,299],"nice":false,"zero":false},"axis":null},"text":{"field":"sub"}}},
{"transform":[{"filter":"datum.sub === 'i'"}],"mark":{"type":"text","fontSize":16.5,"align":"left","baseline":"middle","color":"#000"},"encoding":{"x":{"datum":69.5,"type":"quantitative","scale":{"domain":[0,299],"nice":false,"zero":false},"axis":null},"text":{"field":"txt"}}},
{"transform":[{"filter":"datum.sub === 'eq'"}],"mark":{"type":"text","fontSize":16.5,"align":"left","baseline":"middle","color":"#000"},"encoding":{"x":{"datum":77.5,"type":"quantitative","scale":{"domain":[0,299],"nice":false,"zero":false},"axis":null},"text":{"field":"txt"}}}
]}
],
"config": {
"font": "Liberation Serif",
"view": {"stroke": null},
"axis": {"labelFont": "Liberation Serif", "titleFont": "Liberation Serif", "labelFontSize": 17, "titleFontSize": 22.3, "titleFontWeight": "normal", "labelColor": "#000", "titleColor": "#000", "domainColor": "#000", "tickColor": "#000", "domainWidth": 1.2, "tickWidth": 1.2, "grid": false, "labelOverlap": false, "labelFlush": false, "labelPadding": 3},
"axisX": {"titlePadding": 8},
"axisY": {"titlePadding": 8},
"title": {"font": "Liberation Serif", "fontSize": 17, "fontWeight": "normal", "color": "#000", "offset": 8},
"text": {"font": "Liberation Serif"}
}
}
